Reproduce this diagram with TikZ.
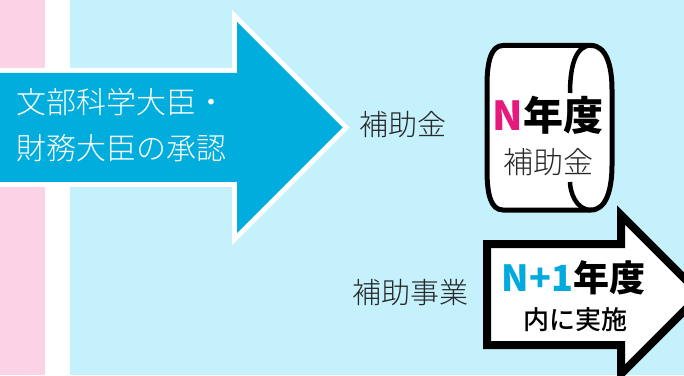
\documentclass[tikz,border=0pt]{standalone}
\usepackage{fontspec}
\newfontfamily\jp{Noto Sans CJK JP}
\newfontfamily\jplight{Noto Sans CJK JP Light}
\newfontfamily\jpmed{Noto Sans CJK JP Medium}
\definecolor{pinkbg}{RGB}{251,210,230}
\definecolor{bluebg}{RGB}{197,241,253}
\definecolor{arrowblue}{RGB}{0,173,220}
\definecolor{nmag}{RGB}{230,25,125}
\definecolor{ncyan}{RGB}{0,170,220}
\definecolor{labelgray}{RGB}{40,40,40}
\tikzset{
  lbl/.style={inner sep=0pt, text=labelgray, font=\jplight\fontsize{29}{29}\selectfont},
  bigtxt/.style={inner sep=0pt, font=\jp\bfseries\fontsize{#1}{#1}\selectfont},
}
\begin{document}
\begin{tikzpicture}[x=1pt,y=1pt]
\useasboundingbox (0,0) rectangle (684,375);
\clip (0,0) rectangle (684,375);
% background bands
\fill[pinkbg] (0,0) rectangle (45,375);
\fill[bluebg] (70,0) rectangle (684,375);
% big blue arrow
\fill[arrowblue, line join=miter, preaction={draw=white, line width=10pt, line join=miter}]
  (-20,302) -- (237,302) -- (237,353) -- (342.5,247.5) -- (237,142) -- (237,193) -- (-20,193) -- cycle;
\node[anchor=west, inner sep=0pt, align=left, text=white, font=\jplight\fontsize{30}{46}\selectfont] (approval) at (16,250)
  {文部科学大臣・\\財務大臣の承認};
% label grant
\node[lbl] (grantlbl) at (403,250) {補助金};
% cylinder (scroll)
\draw[line width=5pt, fill=white]
  (503,329.5) -- (591,329.5) .. controls (606,329.5) and (612,310) .. (612,285)
  -- (612,210) .. controls (612,185) and (606,165) .. (591,165)
  -- (503,165) .. controls (491,165) and (487,180) .. (487,205)
  -- (487,290) .. controls (487,313) and (491,329.5) .. (503,329.5) -- cycle;
\draw[line width=4.5pt] (591,329.5) .. controls (576,329.5) and (570,310) .. (570,282);
\draw[line width=4.5pt] (570,193) .. controls (570,183) and (576,165) .. (591,165);
\node[bigtxt=40] (nyear) at (548,260) {\textcolor{nmag}{N}年度};
\node[inner sep=0pt, text=labelgray, font=\jplight\fontsize{30}{30}\selectfont] (nsub) at (548,213) {補助金};
% label project
\node[lbl] (projlbl) at (410,82) {補助事業};
% white arrow with black border
\draw[line width=8pt, fill=white, line join=miter]
  (487,131) -- (621,131) -- (621,160) -- (700.5,80.5) -- (621,1) -- (621,30) -- (487,30) -- cycle;
\node[bigtxt=36] (n1year) at (573.5,97) {\textcolor{ncyan}{N+1}年度};
\node[inner sep=0pt, font=\jpmed\fontsize{26}{26}\selectfont] (n1sub) at (575,55) {内に実施};
\end{tikzpicture}
\end{document}
